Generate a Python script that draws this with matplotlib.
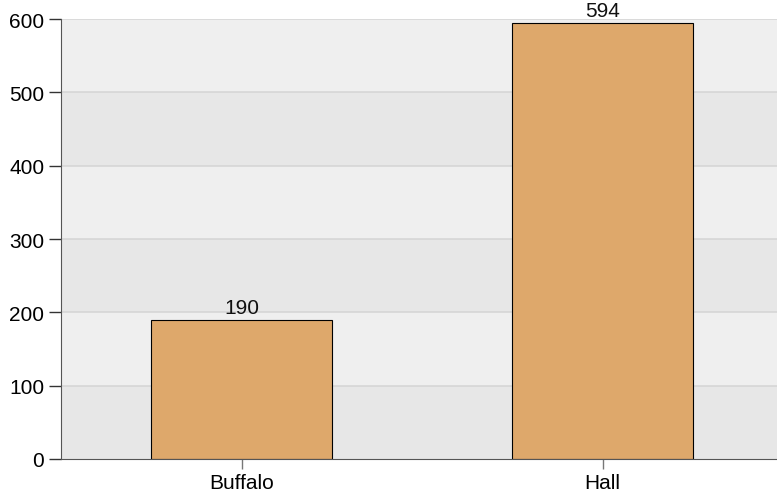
import matplotlib as mpl
mpl.use('Agg')
import matplotlib.pyplot as plt

categories = ['Buffalo', 'Hall']
values = [190, 594]
y_ticks = [0, 100, 200, 300, 400, 500, 600]

plt.rcParams['font.family'] = ['Liberation Sans', 'DejaVu Sans']

fig = plt.figure(figsize=(7.77, 5.02), dpi=100)
# plot area runs slightly past the right edge of the figure
ax = fig.add_axes([61 / 777, 42 / 502, 722 / 777, 440 / 502])

# alternating background bands
for i in range(len(y_ticks) - 1):
    color = '#e7e7e7' if i % 2 == 0 else '#efefef'
    ax.axhspan(y_ticks[i], y_ticks[i + 1], color=color, zorder=0, lw=0)
for t in y_ticks[1:]:
    ax.axhline(t, color='#d6d6d6', lw=1.2, zorder=1)

x = list(range(len(categories)))
bars = ax.bar(x, values, width=0.5, color='#dea86b', edgecolor='black', linewidth=0.8, zorder=2)
for xi, v in zip(x, values):
    ax.text(xi, v + 4, str(v), ha='center', va='bottom', fontsize=15, color='#111111', zorder=3)

ax.set_xlim(-0.5, 1.5)
ax.set_ylim(0, 600)
ax.set_yticks(y_ticks)
ax.set_xticks(x)
ax.set_xticklabels(categories)

ax.spines['right'].set_visible(False)
ax.spines['top'].set_visible(False)
ax.spines['left'].set_color('#555555')
ax.spines['bottom'].set_color('#555555')
ax.tick_params(axis='y', length=9, width=1, color='#333333', labelsize=15, pad=3)
ax.tick_params(axis='x', length=7, width=1, color='#777777', labelsize=15, pad=3)

plt.savefig('out.png', dpi=100)
plt.close()
